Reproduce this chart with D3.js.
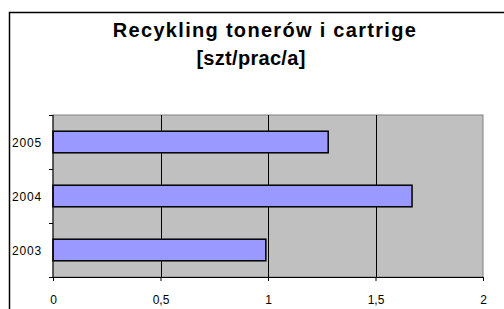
<!DOCTYPE html>
<html>
<head>
<meta charset="utf-8">
<script src="https://cdn.jsdelivr.net/npm/d3@7"></script>
<style>
body { margin: 0; background: #fff; }
text { font-family: "Liberation Sans", Arial, sans-serif; }
</style>
</head>
<body>
<div id="chart"></div>
<script>
var years = ["2005", "2004", "2003"];
var values = [1.28, 1.67, 0.99];
var xTicks = [0, 0.5, 1, 1.5, 2];
var xTickLabels = ["0", "0,5", "1", "1,5", "2"];
var titleLines = ["Recykling tonerów i cartrige", "[szt/prac/a]"];

var width = 504;
var height = 309;
var plot = {left: 53, top: 115, right: 483, bottom: 277};

var svg = d3.select("#chart")
        .append("svg")
        .attr("width", width)
        .attr("height", height);

// outer chart frame, runs off the right and bottom of the picture
svg.append("rect")
    .attr("x", 9.5).attr("y", 12.5)
    .attr("width", 600).attr("height", 400)
    .attr("fill", "#fff")
    .attr("stroke", "#000")
    .attr("stroke-width", 1.5);

svg.selectAll(".title")
    .data(titleLines)
    .enter()
    .append("text")
    .attr("class", "title")
    .attr("x", function(d, i){ return i == 0 ? 265 : 251; })
    .attr("y", function(d, i){ return 37 + i * 28; })
    .attr("text-anchor", function(d, i){ return i == 0 ? "middle" : "start"; })
    .attr("font-weight", "bold")
    .attr("font-size", 20)
    .attr("letter-spacing", function(d, i){ return i == 0 ? 1.3 : 0.3; })
    .text(function(d){ return d; });
svg.selectAll(".title").filter(function(d, i){ return i == 1; })
    .attr("text-anchor", "middle");

var x = d3.scaleLinear()
        .domain([0, 2])
        .range([plot.left, plot.right]);

var y = d3.scaleBand()
        .domain(years)
        .range([plot.top, plot.bottom])
        .paddingInner(0.6)
        .paddingOuter(0.3);

svg.append("rect")
    .attr("x", plot.left).attr("y", plot.top)
    .attr("width", plot.right - plot.left)
    .attr("height", plot.bottom - plot.top)
    .attr("fill", "#c0c0c0")
    .attr("stroke", "#808080")
    .attr("stroke-width", 1);

svg.selectAll(".grid")
    .data(xTicks.slice(1, -1))
    .enter()
    .append("line")
    .attr("class", "grid")
    .attr("x1", function(d){ return Math.round(x(d)) + 0.5; })
    .attr("x2", function(d){ return Math.round(x(d)) + 0.5; })
    .attr("y1", plot.top)
    .attr("y2", plot.bottom)
    .attr("stroke", "#000");

svg.selectAll(".bar")
    .data(values)
    .enter()
    .append("rect")
    .attr("class", "bar")
    .attr("x", x(0))
    .attr("y", function(d, i){ return y(years[i]); })
    .attr("width", function(d){ return x(d) - x(0); })
    .attr("height", y.bandwidth())
    .attr("fill", "#9999ff")
    .attr("stroke", "#000")
    .attr("stroke-width", 1.5);

// x axis
var xAxis = svg.append("g")
    .attr("transform", "translate(0," + plot.bottom + ")")
    .call(d3.axisBottom(x)
        .tickValues(xTicks)
        .tickFormat(function(d, i){ return xTickLabels[i]; })
        .tickSize(4)
        .tickSizeOuter(0)
        .tickPadding(14));
xAxis.select(".domain").attr("stroke", "#000");
xAxis.selectAll("line").attr("stroke", "#000");
xAxis.selectAll("text")
    .attr("font-size", 12)
    .attr("font-family", "Liberation Sans, Arial, sans-serif")
    .attr("fill", "#000");

// y axis: ticks between the categories
var yAxis = svg.append("g")
    .attr("transform", "translate(" + plot.left + ",0)");
yAxis.append("line")
    .attr("y1", plot.top).attr("y2", plot.bottom)
    .attr("stroke", "#000");
var bounds = years.map(function(d){ return y(d) - y.step() * y.paddingInner() / 2; });
bounds.push(plot.bottom);
bounds[0] = plot.top;
yAxis.selectAll(".ytick")
    .data(bounds)
    .enter()
    .append("line")
    .attr("class", "ytick")
    .attr("x1", -4).attr("x2", 0)
    .attr("y1", function(d){ return Math.round(d) + 0.5; })
    .attr("y2", function(d){ return Math.round(d) + 0.5; })
    .attr("stroke", "#000");
yAxis.selectAll(".ylabel")
    .data(years)
    .enter()
    .append("text")
    .attr("class", "ylabel")
    .attr("x", -11)
    .attr("y", function(d){ return y(d) + y.bandwidth() / 2 + 5; })
    .attr("text-anchor", "end")
    .attr("font-size", 12)
    .attr("letter-spacing", 0.8)
    .text(function(d){ return d; });
</script>
</body>
</html>
